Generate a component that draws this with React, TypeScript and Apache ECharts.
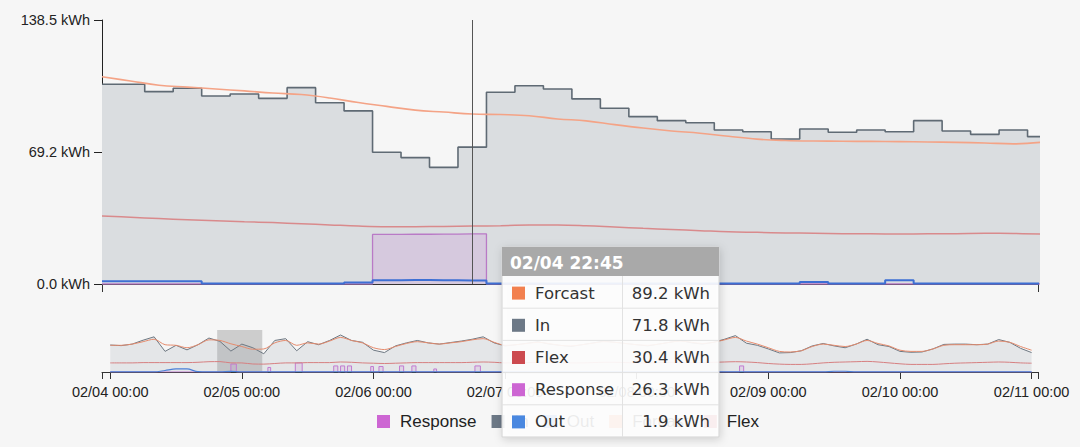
import React, { useEffect, useRef } from "react";
import * as echarts from "echarts";

// ---------- series meta ----------
const seriesNames = ["Response", "In", "Out", "Forcast", "Flex"];
const legendColors: Record<string, string> = {
  Response: "#cd66d3",
  In: "#6c7886",
  Out: "#4a88e0",
  Forcast: "#f2804f",
  Flex: "#cc4a4f",
};

// ---------- focus window: 15-minute readings starting 02/04 19:30 ----------
const mainIn = [104.8, 104.8, 100.9, 102.7, 98.6, 99.7, 97.4, 103.0, 95.1, 90.8, 69.1, 66.3, 61.2, 71.8, 100.6, 104.0, 102.3, 97.1, 92.2, 87.8, 85.7, 84.6, 80.8, 79.9, 76.1, 81.3, 79.6, 80.8, 79.9, 85.7, 80.3, 78.5, 80.8, 77.3];
const mainForcast = [108.7, 106.5, 104.3, 103.3, 102.3, 101.3, 100.2, 99.4, 97.6, 95.2, 93.2, 91.2, 90.2, 89.2, 88.9, 88.3, 86.6, 85.6, 83.6, 81.8, 80.3, 79.1, 77.5, 76.0, 75.3, 75.0, 74.9, 74.8, 74.7, 74.5, 74.3, 74.0, 73.5, 74.4];
const mainFlex = [35.7, 35.0, 34.3, 33.7, 33.2, 32.7, 32.2, 31.6, 31.0, 30.4, 30.1, 30.1, 30.2, 30.4, 30.6, 30.9, 31.0, 30.6, 29.9, 29.2, 28.6, 28.0, 27.4, 27.1, 26.8, 26.6, 26.4, 26.3, 26.2, 26.3, 26.4, 26.6, 26.5, 26.2];
const mainResponse = [0, 0, 0, 0, 0, 0, 0, 0, 0, 0, 26.0, 26.1, 26.2, 26.3, 0, 0, 0, 0, 0, 0, 0, 0, 0, 0, 0, 0, 0, 0, 0, 0, 0, 0, 0, 0];
const mainOut = [1.5, 1.5, 1.5, 1.5, 0.3, 0.3, 0.3, 0.3, 0.3, 0.8, 2.0, 2.1, 2.0, 1.9, 0.3, 0.3, 0.3, 0.3, 0.3, 0.3, 0.3, 0.3, 0.3, 0.3, 0.3, 1.0, 0.3, 0.3, 2.0, 0.3, 0.3, 0.3, 0.3, 0.3];

// ---------- overview: 2-hour readings from 02/04 00:00 to 02/11 00:00 ----------
const contextIn = [
  89, 87, 92, 105, 116, 68, 88, 73, 90, 112,
  101, 69, 92, 80, 60, 104, 110, 70, 100, 90,
  104, 122, 104, 98, 72, 64, 86, 96, 104, 96,
  92, 97, 102, 108, 116, 96, 86, 90, 95, 100,
  92, 88, 84, 90, 96, 102, 98, 94, 90, 86,
  92, 98, 104, 96, 92, 98, 108, 120, 95, 88,
  76, 63, 64, 70, 86, 94, 86, 80, 92, 108,
  90, 84, 68, 65, 66, 76, 91, 92, 92, 90,
  92, 107, 98, 78, 64,
];
const contextForcast = [
  88, 88, 92, 100, 108, 90, 88, 80, 90, 106,
  104, 93, 84, 75, 76, 96, 104, 88, 96, 92,
  102, 114, 104, 96, 80, 74, 84, 94, 100, 96,
  92, 96, 100, 106, 110, 98, 88, 90, 94, 98,
  94, 88, 86, 90, 95, 100, 98, 94, 90, 88,
  92, 98, 102, 98, 94, 98, 106, 114, 102, 92,
  80, 68, 66, 70, 84, 92, 88, 84, 92, 104,
  94, 86, 72, 68, 68, 76, 88, 90, 90, 90,
  92, 102, 98, 84, 72,
];
const contextFlex = [
  30, 30, 30, 31, 31, 31, 31, 31, 32, 34,
  34.3, 30.1, 29.9, 26.4, 26, 28, 30, 30, 31, 31,
  31, 33, 32, 30, 29, 28, 29, 30, 31, 31,
  31, 31, 31, 32, 33, 32, 30, 30, 31, 32,
  32, 31, 30, 30, 31, 32, 32, 31, 30, 30,
  31, 32, 32, 31, 31, 32, 33, 34, 33, 31,
  28, 26, 25, 25, 27, 30, 32, 33, 34, 35,
  33, 30, 27, 25, 25, 25, 27, 29, 30, 31,
  32, 33, 32, 30, 29,
];
const contextOut = [
  0.4, 0.4, 0.4, 0.4, 0.4, 5, 10, 10, 1, 0.4,
  0.4, 2, 0.4, 0.4, 0.4, 0.4, 0.4, 0.4, 0.4, 0.4,
  0.4, 0.4, 0.4, 0.4, 0.4, 0.4, 0.4, 0.4, 0.4, 0.4,
  0.4, 0.4, 0.4, 0.4, 0.4, 0.4, 0.4, 0.4, 0.4, 0.4,
  0.4, 0.4, 0.4, 0.4, 0.4, 0.4, 0.4, 0.4, 0.4, 0.4,
  0.4, 0.4, 0.4, 0.4, 0.4, 0.4, 0.4, 0.4, 0.4, 0.4,
  0.4, 0.4, 0.4, 0.4, 0.4, 0.4, 2.5, 2.5, 0.4, 0.4,
  0.4, 0.4, 0.4, 0.4, 0.4, 0.4, 0.4, 0.4, 0.4, 0.4,
  0.4, 0.4, 0.4, 0.4, 0.4,
];
// response events in the overview (hours after 02/04 00:00)
const responseStartH = [22, 28.75, 33.75, 40.75, 42, 43.25, 47.5, 49, 52.75, 55, 59, 66.5, 114.75];
const responseEndH = [23, 29.25, 35, 41.5, 42.75, 44, 48, 49.75, 53.5, 55.75, 59.5, 67.5, 115.5];
const responseValue = [26.3, 15, 30, 20, 20, 20, 18, 18, 20, 20, 10, 20, 20];

// ---------- axes (x in hours after 02/04 00:00) ----------
const yTicks = [0, 69.25, 138.5];
const yTickLabels = ["0.0 kWh", "69.2 kWh", "138.5 kWh"];
const overviewTickHours = [0, 24, 48, 72, 96, 120, 144, 168];
const focusStart = 19.5; // 02/04 19:30
const focusEnd = 27.7167; // 02/05 03:43
const focusStepH = 0.25;
const tooltipHour = 22.75; // 02/04 22:45
const ctxStepH = 2;
const ctxMin = -1.5;
const ctxMax = 169.1667;
const baseMonth = 2;
const baseDay = 4;

const focusHours = mainIn.map((_, i) => focusStart + i * focusStepH);
const ctxHours = contextIn.map((_, i) => i * ctxStepH);

const pad = (n: number) => String(n).padStart(2, "0");
const fmt = (h: number) => {
  const totalMin = Math.round(h * 60);
  const day = baseDay + Math.floor(totalMin / 1440);
  const m = ((totalMin % 1440) + 1440) % 1440;
  return `${pad(baseMonth)}/${pad(day)} ${pad(Math.floor(m / 60))}:${pad(m % 60)}`;
};

const pair = (xs: number[], vals: number[]) => vals.map((v, i) => [xs[i], v]);

const AXIS_FONT = "'Liberation Sans', Arial, Helvetica, sans-serif";
const TIP_FONT = "'DejaVu Sans', Verdana, sans-serif";

function buildOption() {
  const mainSeries: Record<string, number[]> = {
    Response: mainResponse,
    In: mainIn,
    Out: mainOut,
    Forcast: mainForcast,
    Flex: mainFlex,
  };
  const tipIndex = focusHours.findIndex((h) => Math.abs(h - tooltipHour) < 1e-6);

  const ctxResponse: number[][] = [[0, 0]];
  responseStartH.forEach((s, i) => {
    const e = responseEndH[i];
    ctxResponse.push([s, 0], [s, responseValue[i]], [e, responseValue[i]], [e, 0]);
  });
  ctxResponse.push([ctxHours[ctxHours.length - 1], 0]);

  // ---- static tooltip built with graphic elements ----
  const rows = seriesNames
    .map((n) => ({ name: n, value: mainSeries[n][tipIndex], color: legendColors[n] }))
    .sort((a, b) => b.value - a.value);
  const tipX = 502, tipY = 247, tipW = 217, headerH = 29, rowH = 32.2, colX = 622.5;
  const tipH = headerH + rows.length * rowH;
  const g: any[] = [];
  g.push({
    type: "rect", z: 100,
    shape: { x: tipX, y: tipY, width: tipW, height: tipH },
    style: { fill: "rgba(255,255,255,0.9)", stroke: "#d2d2d2", lineWidth: 1, shadowBlur: 8, shadowColor: "rgba(0,0,0,0.18)", shadowOffsetX: 1, shadowOffsetY: 2 },
  });
  g.push({
    type: "rect", z: 101,
    shape: { x: tipX, y: tipY, width: tipW, height: headerH },
    style: { fill: "#a9a9a9" },
  });
  g.push({
    type: "text", z: 102,
    style: {
      text: fmt(tooltipHour), x: tipX + 8, y: tipY + headerH / 2 + 1,
      fill: "#ffffff", font: `bold 17px ${TIP_FONT}`,
      align: "left", verticalAlign: "middle",
    },
  });
  for (let i = 1; i < rows.length; i++) {
    const yy = tipY + headerH + i * rowH;
    g.push({ type: "line", z: 101, shape: { x1: tipX, y1: yy, x2: tipX + tipW, y2: yy }, style: { stroke: "#e2e2e2", lineWidth: 1 } });
  }
  g.push({ type: "line", z: 101, shape: { x1: colX, y1: tipY + headerH, x2: colX, y2: tipY + tipH }, style: { stroke: "#e2e2e2", lineWidth: 1 } });
  rows.forEach((r, i) => {
    const cy = tipY + headerH + rowH * (i + 0.5) + 1;
    g.push({ type: "rect", z: 102, shape: { x: tipX + 10, y: cy - 6.5, width: 13, height: 13 }, style: { fill: r.color } });
    g.push({
      type: "text", z: 102,
      style: { text: r.name, x: tipX + 33, y: cy, fill: "#333", font: `16.5px ${TIP_FONT}`, align: "left", verticalAlign: "middle" },
    });
    g.push({
      type: "text", z: 102,
      style: { text: `${r.value.toFixed(1)} kWh`, x: tipX + tipW - 9, y: cy, fill: "#333", font: `16.5px ${TIP_FONT}`, align: "right", verticalAlign: "middle" },
    });
  });

  const lineBase = { type: "line", showSymbol: false, symbol: "none", silent: true };

  return {
    animation: false,
    backgroundColor: "#f6f6f6",
    grid: [
      { left: 102, right: 42, top: 20, bottom: 163 },
      { left: 102, right: 42, top: 330, bottom: 75 },
    ],
    legend: {
      data: seriesNames,
      left: 372,
      top: 408,
      icon: "rect",
      itemWidth: 13,
      itemHeight: 13,
      itemGap: 15,
      itemStyle: { borderWidth: 0 },
      textStyle: { fontSize: 17, color: "#222", fontFamily: AXIS_FONT, padding: [0, 0, 0, 5] },
    },
    xAxis: [
      {
        type: "value", gridIndex: 0, min: focusStart, max: focusEnd,
        axisLine: { show: true, onZero: false, lineStyle: { color: "#333", width: 1 } },
        axisTick: { show: true, customValues: [focusStart, focusEnd], length: 8, lineStyle: { color: "#333" } },
        axisLabel: { show: false },
        splitLine: { show: false },
      },
      {
        type: "value", gridIndex: 1, min: ctxMin, max: ctxMax,
        axisLine: { show: true, onZero: false, lineStyle: { color: "#333", width: 1 } },
        axisTick: { show: true, customValues: [ctxMin, ...overviewTickHours, ctxMax], length: 7, lineStyle: { color: "#333" } },
        axisLabel: {
          show: true, customValues: overviewTickHours, formatter: (v: number) => fmt(v),
          margin: 12, fontSize: 14.5, color: "#222", fontFamily: AXIS_FONT,
        },
        splitLine: { show: false },
      },
    ],
    yAxis: [
      {
        type: "value", gridIndex: 0, min: 0, max: 138.5, interval: 69.25,
        axisLine: { show: true, lineStyle: { color: "#222", width: 1 } },
        axisTick: { show: true, length: 8, lineStyle: { color: "#222" } },
        axisLabel: {
          margin: 12, fontSize: 14.5, color: "#222", fontFamily: AXIS_FONT,
          formatter: (v: number) => {
            let best = 0;
            yTicks.forEach((t, i) => { if (Math.abs(t - v) < Math.abs(yTicks[best] - v)) best = i; });
            return yTickLabels[best];
          },
        },
        splitLine: { show: false },
      },
      { type: "value", gridIndex: 1, min: 0, max: 138.5, show: false, splitLine: { show: false } },
    ],
    series: [
      // ---- focus chart ----
      {
        ...lineBase, name: "In", xAxisIndex: 0, yAxisIndex: 0, step: "middle",
        data: pair(focusHours, mainIn),
        itemStyle: { color: legendColors.In },
        lineStyle: { color: "#5f6a74", width: 1.6 },
        areaStyle: { color: "#dadde0", opacity: 1 },
      },
      {
        ...lineBase, name: "Response", xAxisIndex: 0, yAxisIndex: 0, step: "middle",
        data: pair(focusHours, mainResponse),
        itemStyle: { color: legendColors.Response },
        lineStyle: { color: "#b97ac6", width: 1.3 },
        areaStyle: { color: "rgba(200,120,215,0.28)" },
      },
      {
        ...lineBase, name: "Flex", xAxisIndex: 0, yAxisIndex: 0, smooth: 0.4,
        data: pair(focusHours, mainFlex),
        itemStyle: { color: legendColors.Flex },
        lineStyle: { color: "#d98a8c", width: 1.5 },
      },
      {
        ...lineBase, name: "Forcast", xAxisIndex: 0, yAxisIndex: 0, smooth: 0.4,
        data: pair(focusHours, mainForcast),
        itemStyle: { color: legendColors.Forcast },
        lineStyle: { color: "#f4a386", width: 1.6 },
        markLine: {
          silent: true, symbol: ["none", "none"], animation: false,
          label: { show: false },
          lineStyle: { color: "#555", width: 1, type: "solid" },
          data: [{ xAxis: tooltipHour }],
        },
      },
      {
        ...lineBase, name: "Out", xAxisIndex: 0, yAxisIndex: 0, step: "middle",
        data: pair(focusHours, mainOut),
        itemStyle: { color: legendColors.Out },
        lineStyle: { color: "#3d6fd4", width: 2 },
      },
      // ---- overview chart ----
      {
        ...lineBase, name: "In", xAxisIndex: 1, yAxisIndex: 1,
        data: pair(ctxHours, contextIn),
        itemStyle: { color: legendColors.In },
        lineStyle: { color: "#6e7882", width: 1 },
        areaStyle: { color: "rgba(150,158,168,0.25)" },
        markArea: {
          silent: true,
          itemStyle: { color: "rgba(110,110,110,0.3)" },
          data: [[{ xAxis: focusStart }, { xAxis: focusEnd }]],
        },
      },
      {
        ...lineBase, name: "Response", xAxisIndex: 1, yAxisIndex: 1,
        data: ctxResponse,
        itemStyle: { color: legendColors.Response },
        lineStyle: { color: "#c27bd0", width: 1 },
        areaStyle: { color: "rgba(200,120,215,0.2)" },
      },
      {
        ...lineBase, name: "Flex", xAxisIndex: 1, yAxisIndex: 1, smooth: 0.3,
        data: pair(ctxHours, contextFlex),
        itemStyle: { color: legendColors.Flex },
        lineStyle: { color: "#d67f80", width: 1 },
      },
      {
        ...lineBase, name: "Forcast", xAxisIndex: 1, yAxisIndex: 1, smooth: 0.3,
        data: pair(ctxHours, contextForcast),
        itemStyle: { color: legendColors.Forcast },
        lineStyle: { color: "#e58b6d", width: 1 },
      },
      {
        ...lineBase, name: "Out", xAxisIndex: 1, yAxisIndex: 1, smooth: 0.3,
        data: pair(ctxHours, contextOut),
        itemStyle: { color: legendColors.Out },
        lineStyle: { color: "#4a7fd8", width: 1.2 },
      },
    ],
    graphic: g,
  };
}

export default function App() {
  const ref = useRef<HTMLDivElement>(null);
  useEffect(() => {
    if (!ref.current) return;
    const chart = echarts.init(ref.current, undefined, { renderer: "svg" });
    chart.setOption(buildOption() as any);
    return () => chart.dispose();
  }, []);
  return (
    <div
      ref={ref}
      style={{ position: "fixed", left: 0, top: 0, width: 1080, height: 447, background: "#f6f6f6" }}
    />
  );
}
